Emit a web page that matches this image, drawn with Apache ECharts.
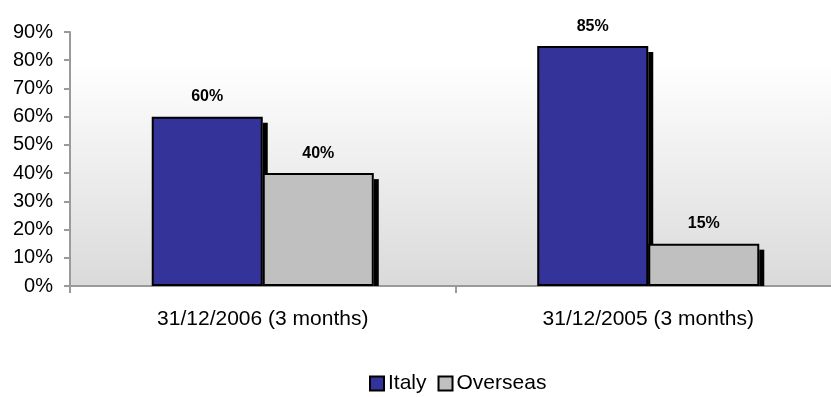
<!DOCTYPE html>
<html>
<head>
<meta charset="utf-8">
<script src="https://cdn.jsdelivr.net/npm/echarts@6/dist/echarts.min.js"></script>
<style>
  html, body { margin: 0; padding: 0; background: #fff; overflow: hidden; }
  #chart { width: 842px; height: 397px; }
</style>
</head>
<body>
<div id="chart"></div>
<script>
var categories = ['31/12/2006 (3 months)', '31/12/2005 (3 months)'];
var italy = [60, 85];
var overseas = [40, 15];
var seriesNames = ['Italy', 'Overseas'];

var BAR_FRAC = 0.288;

// shadow items: [category index, value, series index]
var shadowData = [];
italy.forEach(function (v, i) { shadowData.push([i, v, 0]); });
overseas.forEach(function (v, i) { shadowData.push([i, v, 1]); });

var myChart = echarts.init(document.getElementById('chart'));

var labelStyle = {
    show: true,
    position: 'top',
    distance: 12,
    formatter: '{c}%',
    color: '#000',
    fontWeight: 'bold',
    fontSize: 16,
    fontFamily: 'Liberation Sans, Arial, sans-serif'
};

myChart.setOption({
    animation: false,
    textStyle: { fontFamily: 'Liberation Sans, Arial, sans-serif' },
    grid: {
        left: 70,
        top: 32,
        right: 1,
        bottom: 111,
        show: true,
        borderWidth: 0,
        backgroundColor: new echarts.graphic.LinearGradient(0, 0, 0, 1, [
            { offset: 0, color: '#ffffff' },
            { offset: 0.12, color: '#ffffff' },
            { offset: 1, color: '#dadada' }
        ])
    },
    legend: {
        data: seriesNames,
        top: 368,
        left: 364,
        itemWidth: 14,
        itemHeight: 14,
        itemGap: 11,
        icon: 'rect',
        textStyle: { fontSize: 21, color: '#000', padding: [0, 0, 0, -1] }
    },
    xAxis: {
        type: 'category',
        data: categories,
        axisLine: { lineStyle: { color: '#9a9a9a', width: 2 } },
        axisTick: { show: true, length: 7, lineStyle: { color: '#9a9a9a', width: 2 } },
        axisLabel: { color: '#000', fontSize: 21, margin: 23 }
    },
    yAxis: {
        type: 'value',
        min: 0,
        max: 90,
        interval: 10,
        axisLine: { show: true, lineStyle: { color: '#9a9a9a', width: 2 } },
        axisTick: { show: true, length: 6, lineStyle: { color: '#9a9a9a', width: 2 } },
        splitLine: { show: false },
        axisLabel: { formatter: '{value}%', color: '#000', fontSize: 20, margin: 17 }
    },
    series: [
        {
            type: 'custom',
            z: 1,
            silent: true,
            data: shadowData,
            renderItem: function (params, api) {
                var top = api.coord([api.value(0), api.value(1)]);
                var base = api.coord([api.value(0), 0]);
                var bw = api.size([1, 0])[0] * BAR_FRAC;
                var right = api.value(2) === 0 ? top[0] : top[0] + bw;
                return {
                    type: 'rect',
                    shape: { x: right, y: top[1] + 6, width: 5, height: base[1] - top[1] - 6 },
                    style: { fill: '#000' }
                };
            }
        },
        {
            name: 'Italy',
            type: 'bar',
            z: 3,
            data: italy,
            barWidth: (BAR_FRAC * 100) + '%',
            barGap: '0%',
            itemStyle: { color: '#333399', borderColor: '#000', borderWidth: 2 },
            label: labelStyle
        },
        {
            name: 'Overseas',
            type: 'bar',
            z: 3,
            data: overseas,
            barWidth: (BAR_FRAC * 100) + '%',
            barGap: '0%',
            itemStyle: { color: '#c0c0c0', borderColor: '#000', borderWidth: 2 },
            label: labelStyle
        }
    ]
});
</script>
</body>
</html>
